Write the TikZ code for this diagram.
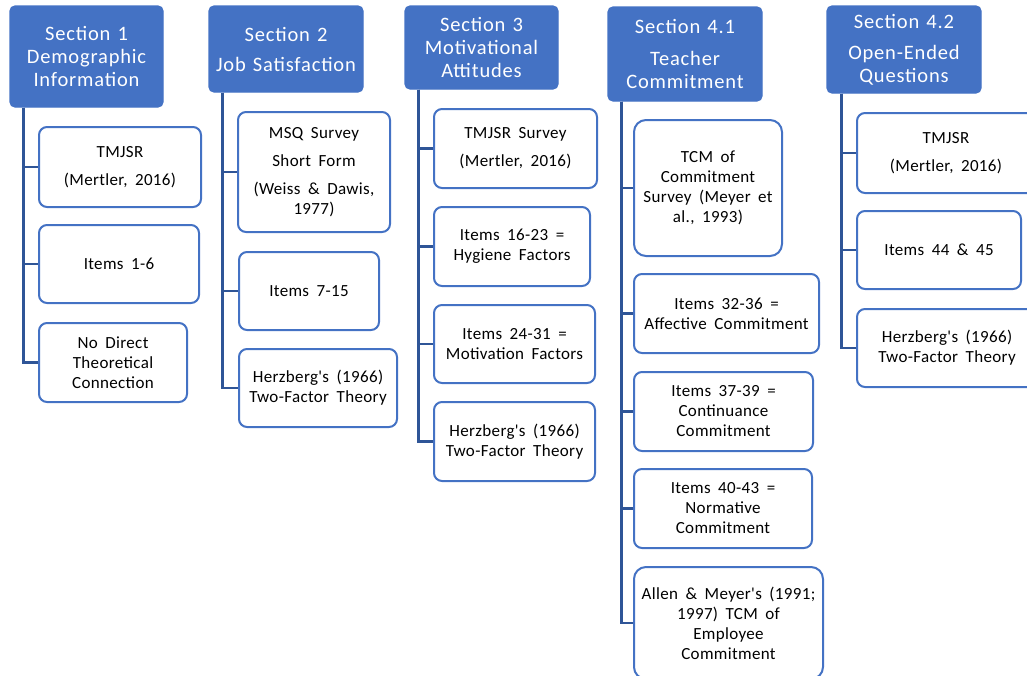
\documentclass[tikz,border=0pt]{standalone}
\usepackage{fontspec}
\setmainfont{Carlito}
\newfontfamily\hdrfont[LetterSpace=4,WordSpace=1.3]{Carlito}
\newfontfamily\boxfont[LetterSpace=2,WordSpace=1.8]{Carlito}
\definecolor{hdr}{HTML}{4472C4}
\definecolor{conn}{HTML}{2F5597}
\tikzset{
  hdrbox/.style={draw=hdr, fill=hdr, line width=1.2pt, rounded corners=5pt, inner sep=0pt,
    align=center, text=white, font=\hdrfont\fontsize{20.5}{23}\selectfont},
  itembox/.style={draw=hdr, fill=white, line width=2pt, rounded corners=8pt, inner sep=0pt,
    align=center, text=black, font=\boxfont\fontsize{17}{20}\selectfont},
  link/.style={draw=conn, line width=2.6pt}
}
\begin{document}
\begin{tikzpicture}[x=1pt,y=-1pt]
\useasboundingbox (0,0) rectangle (1027,675);
% headers
\node[hdrbox, minimum width=153pt, minimum height=101pt] (h1) at (86.5,56.5) {Section 1\\Demographic\\Information};
\node[hdrbox, minimum width=154pt, minimum height=86pt] (h2) at (286,49) {Section 2\\[7pt]Job Satisfaction};
\node[hdrbox, minimum width=153pt, minimum height=83pt] (h3) at (481.5,47.5) {Section 3\\Motivational\\Attitudes};
\node[hdrbox, minimum width=154pt, minimum height=94pt] (h41) at (685,54) {Section 4.1\\[9pt]Teacher\\Commitment};
\node[hdrbox, minimum width=154pt, minimum height=87pt] (h42) at (904,49.5) {Section 4.2\\[8pt]Open-Ended\\Questions};
% connector anchors
\coordinate (t1) at ([xshift=14pt]h1.south west);
\coordinate (t2) at ([xshift=14pt]h2.south west);
\coordinate (t3) at ([xshift=14pt]h3.south west);
\coordinate (t41) at ([xshift=14pt]h41.south west);
\coordinate (t42) at ([xshift=15pt]h42.south west);
% section 1
\node[itembox, minimum width=162pt, minimum height=80pt] (c1a) at (120,167) {TMJSR\\[8pt](Mertler, 2016)};
\node[itembox, minimum width=160pt, minimum height=78pt] (c1b) at (119,264) {Items 1-6};
\node[itembox, minimum width=148pt, minimum height=79pt] (c1c) at (113,362.5) {No Direct\\Theoretical\\Connection};
% section 2
\node[itembox, minimum width=152pt, minimum height=120pt] (c2a) at (314,172) {MSQ Survey\\[8pt]Short Form\\[8pt](Weiss \& Dawis,\\1977)};
\node[itembox, minimum width=140pt, minimum height=78pt] (c2b) at (309,291) {Items 7-15};
\node[itembox, minimum width=158pt, minimum height=78pt] (c2c) at (318,388) {Herzberg's (1966)\\Two-Factor Theory};
% section 3
\node[itembox, minimum width=163pt, minimum height=79pt] (c3a) at (515.5,148.5) {TMJSR Survey\\[8pt](Mertler, 2016)};
\node[itembox, minimum width=156pt, minimum height=79pt] (c3b) at (512,246.5) {Items 16-23 =\\Hygiene Factors};
\node[itembox, minimum width=161pt, minimum height=78pt] (c3c) at (514.5,344) {Items 24-31 =\\Motivation Factors};
\node[itembox, minimum width=161pt, minimum height=79pt] (c3d) at (514.5,441.5) {Herzberg's (1966)\\Two-Factor Theory};
% section 4.1
\node[itembox, minimum width=148pt, minimum height=136pt, rounded corners=12pt] (c4a) at (708,188) {TCM of\\Commitment\\Survey (Meyer et\\al., 1993)};
\node[itembox, minimum width=185pt, minimum height=79pt] (c4b) at (726.5,313.5) {Items 32-36 =\\Affective Commitment};
\node[itembox, minimum width=179pt, minimum height=79pt] (c4c) at (723.5,411.5) {Items 37-39 =\\Continuance\\Commitment};
\node[itembox, minimum width=178pt, minimum height=79pt] (c4d) at (723,508.5) {Items 40-43 =\\Normative\\Commitment};
\node[itembox, minimum width=189pt, minimum height=112pt, rounded corners=12pt] (c4e) at (728.5,623) {Allen \& Meyer's (1991;\\1997) TCM of\\Employee\\Commitment};
% section 4.2
\node[itembox, minimum width=178pt, minimum height=80pt] (c5a) at (946,153) {TMJSR\\[8pt](Mertler, 2016)};
\node[itembox, minimum width=164pt, minimum height=78pt] (c5b) at (939,250) {Items 44 \& 45};
\node[itembox, minimum width=180pt, minimum height=78pt] (c5c) at (947,348) {Herzberg's (1966)\\Two-Factor Theory};
% connectors
\begin{scope}[on background layer/.style={}]
\foreach \t/\c in {t1/c1a,t1/c1b,t1/c1c,t2/c2a,t2/c2b,t2/c2c,t3/c3a,t3/c3b,t3/c3c,t3/c3d,
  t41/c4a,t41/c4b,t41/c4c,t41/c4d,t41/c4e,t42/c5a,t42/c5b,t42/c5c}
  \draw[link] (\t) |- (\c.west);
\end{scope}
\end{tikzpicture}
\end{document}
